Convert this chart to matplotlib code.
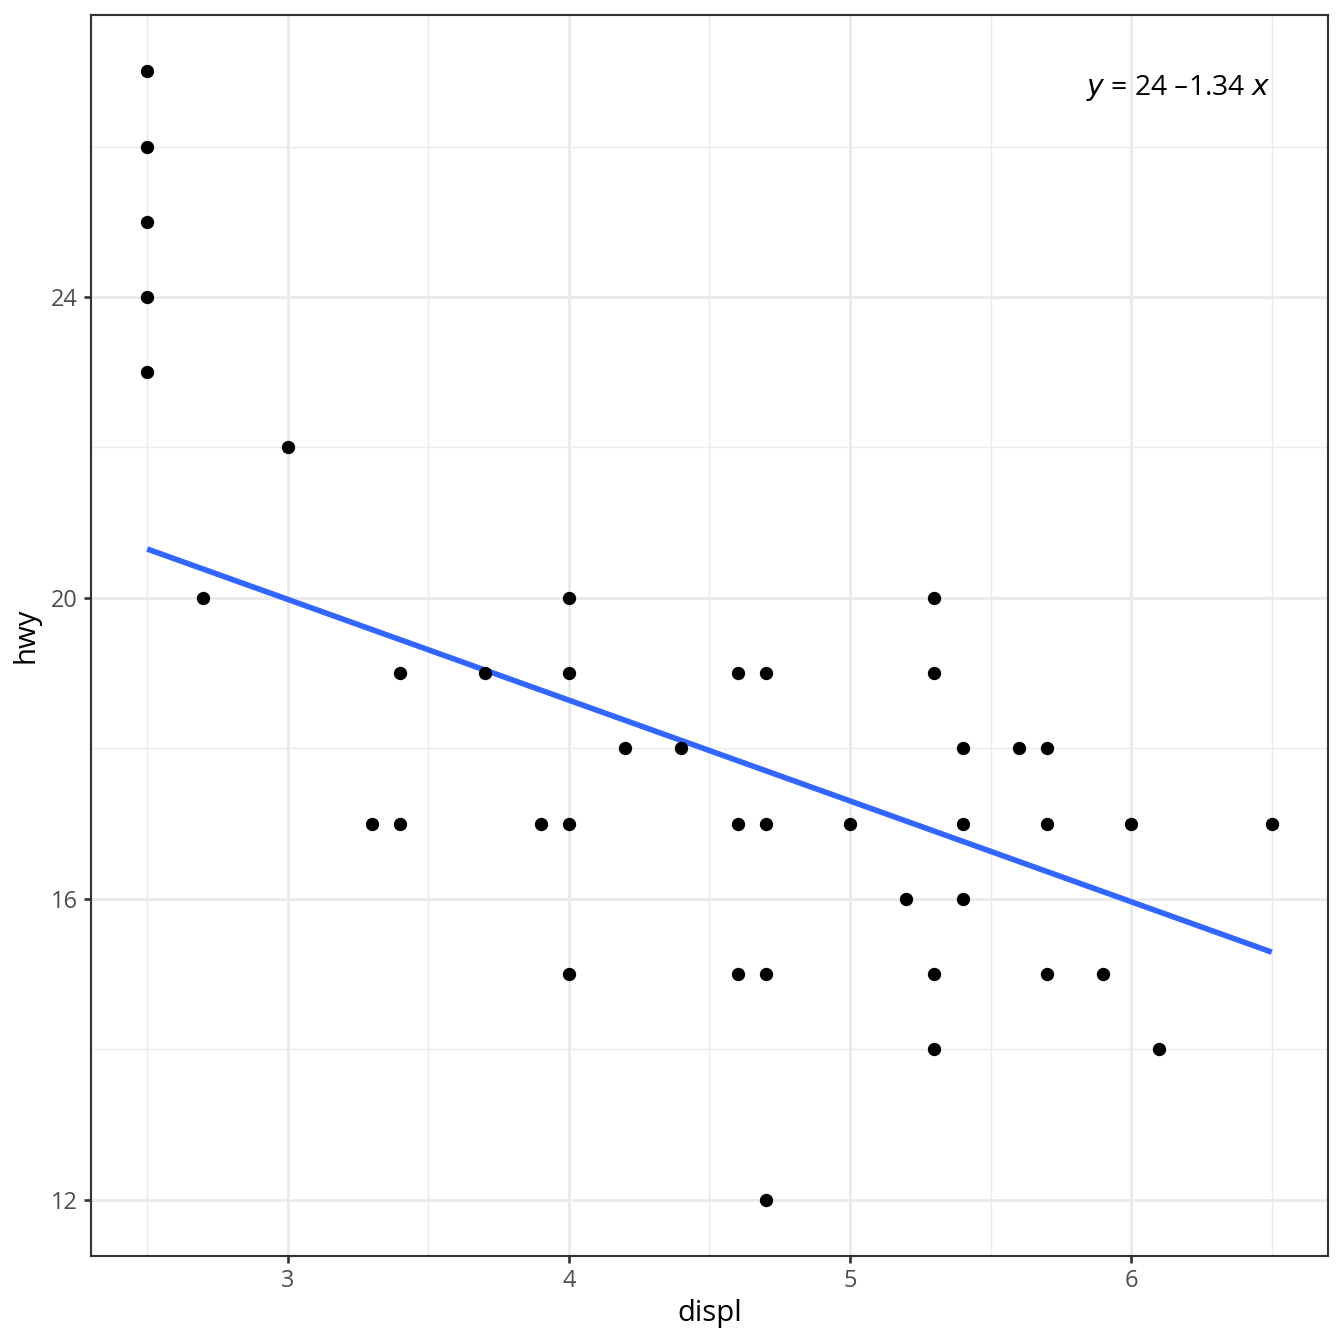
import numpy as np
import matplotlib
matplotlib.use("Agg")
import matplotlib.pyplot as plt

plt.rcParams['font.family'] = ['Open Sans', 'DejaVu Sans']

# ---- data ----
displ = [2.5, 2.5, 2.5, 2.5, 2.5,
         2.7, 3.0, 3.3, 3.4, 3.4, 3.7, 3.9,
         4.0, 4.0, 4.0, 4.0, 4.2, 4.4,
         4.6, 4.6, 4.6, 4.7, 4.7, 4.7, 4.7,
         5.0, 5.2, 5.3, 5.3, 5.3, 5.3,
         5.4, 5.4, 5.4, 5.6, 5.7, 5.7, 5.7,
         5.9, 6.0, 6.1, 6.5]
hwy = [27, 26, 25, 24, 23,
       20, 22, 17, 19, 17, 19, 17,
       20, 19, 17, 15, 18, 18,
       19, 17, 15, 19, 17, 15, 12,
       17, 16, 20, 19, 15, 14,
       18, 17, 16, 18, 18, 17, 15,
       15, 17, 14, 17]

# fitted line from the label
intercept = 24.0
slope = -1.34

x_ticks = [3, 4, 5, 6]
y_ticks = [12, 16, 20, 24]

fig = plt.figure(figsize=(7, 7), dpi=192)
ax = fig.add_axes([91/1344, 88/1344, (1328-91)/1344, (1256-15)/1344])

ax.set_xlim(2.3, 6.7)
ax.set_ylim(11.25, 27.75)

# grid like theme_bw
for v in np.arange(2.5, 6.6, 1.0):
    ax.axvline(v, color='#EBEBEB', lw=0.55, zorder=0)
for v in np.arange(14, 27, 4):
    ax.axhline(v, color='#EBEBEB', lw=0.55, zorder=0)
for v in x_ticks:
    ax.axvline(v, color='#EBEBEB', lw=1.1, zorder=0)
for v in y_ticks:
    ax.axhline(v, color='#EBEBEB', lw=1.1, zorder=0)

xs = np.array([min(displ), max(displ)])
ax.plot(xs, intercept + slope * xs, color='#3366FF', lw=2.1, zorder=2,
        solid_capstyle='butt')
ax.plot(displ, hwy, 'o', color='black', ms=5.0, mec='none', zorder=3)

ax.set_xticks(x_ticks)
ax.set_yticks(y_ticks)
ax.tick_params(axis='both', colors='#333333', labelcolor='#4D4D4D',
               labelsize=8.8, length=2.75, width=1.0, pad=2.2)
for s in ax.spines.values():
    s.set_color('#333333')
    s.set_linewidth(0.8)

ax.set_xlabel('displ', fontsize=11, labelpad=2)
ax.set_ylabel('hwy', fontsize=11, labelpad=4)

ax.text(0.953, 0.953, r'$\mathit{y}$ = 24 –1.34 $\mathit{x}$', transform=ax.transAxes,
        ha='right', va='top', fontsize=10.6)

fig.savefig('out.png', dpi=192)
